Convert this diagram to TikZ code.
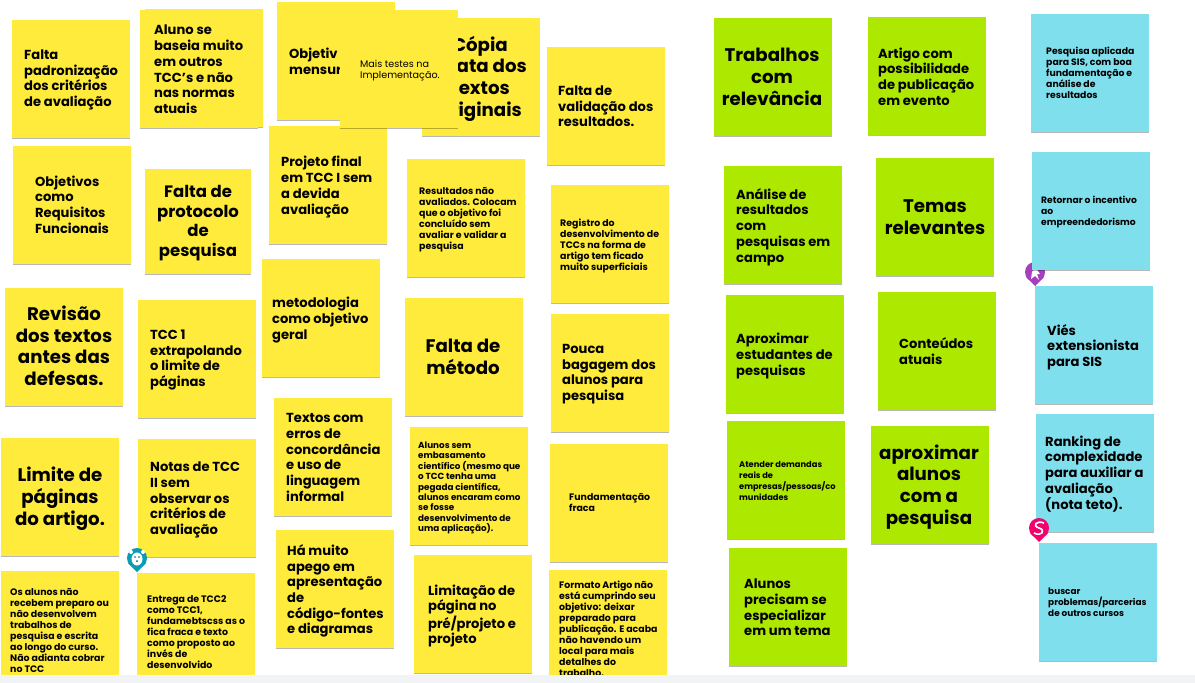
\documentclass[tikz,border=0pt]{standalone}
\usepackage{fontspec}
\usetikzlibrary{shadows}
\setmainfont{Poppins}
\definecolor{noteyellow}{HTML}{FFEB3B}
\definecolor{notegreen}{HTML}{ADE800}
\definecolor{noteblue}{HTML}{80DFEC}
\definecolor{stripgray}{HTML}{F1F3F5}
\definecolor{pinteal}{HTML}{0A9BB5}
\definecolor{pinpurple}{HTML}{A63FBC}
\definecolor{pinpink}{HTML}{F2046F}
\tikzset{
  note/.style={anchor=north west, inner sep=0, minimum width=118pt, minimum height=118pt,
    drop shadow={shadow xshift=0.2pt, shadow yshift=-1.2pt, opacity=.28, fill=black}},
  yellownote/.style={note, fill=noteyellow},
  greennote/.style={note, fill=notegreen},
  bluenote/.style={note, fill=noteblue},
  notetext/.style={inner sep=0, text=black, yshift=-2pt,
    execute at begin node={\rule{0pt}{.75em}},
    execute at end node={\rule[-.25em]{0pt}{.25em}}},
  lefttext/.style={notetext, anchor=west, align=left},
  midtext/.style={notetext, anchor=center, align=center},
  bigfont/.style={font=\fontsize{18.2}{21.8}\selectfont\bfseries},
  protofont/.style={font=\fontsize{16.5}{19.6}\selectfont\bfseries},
  midfont/.style={font=\fontsize{13.1}{15.7}\selectfont\bfseries},
  smallfont/.style={font=\fontsize{#1}{11}\selectfont\bfseries},
  smallfont/.default=9.4,
  tinyfont/.style={font=\fontsize{8.8}{10.4}\selectfont\bfseries},
  plainfont/.style={font=\fontsize{9.6}{11}\selectfont},
}
\begin{document}
\begin{tikzpicture}[x=1pt, y=-1pt]
    \clip (0,0) rectangle (1195,683);
    \fill [white] (0,0) rectangle (1195,683);

    % yellow notes, first column
    \node [yellownote] (padrao) at (12,20) {};
    \node [lefttext, midfont] (padrao text) at (24,78) {Falta\\padronização\\dos critérios\\de avaliação};
    \node [yellownote] (requisitos) at (13,146) {};
    \node [lefttext, midfont] (requisitos text) at (35,204) {Objetivos\\como\\Requisitos\\Funcionais};
    \node [yellownote] (revisao) at (5,288) {};
    \node [midtext, bigfont] (revisao text) at (64,346) {Revisão\\dos textos\\antes das\\defesas.};
    \node [yellownote] (limite) at (1,438) {};
    \node [midtext, bigfont] (limite text) at (60,497) {Limite de\\páginas\\do artigo.};
    \node [yellownote] (preparo) at (1,571) {};
    \node [lefttext, smallfont] (preparo text) at (10,630) {Os alunos não\\recebem preparo ou\\não desenvolvem\\trabalhos de\\pesquisa e escrita\\ao longo do curso.\\Não adianta cobrar\\no TCC};

    % second column
    \node [yellownote] (normas back) at (145,9) {};
    \node [yellownote] (normas) at (140,10) {};
    \node [lefttext, midfont] (normas text) at (154,69) {Aluno se\\baseia muito\\em outros\\TCC's e não\\nas normas\\atuais};
    \node [yellownote, minimum width=106pt, minimum height=105pt] (protocolo) at (145,169) {};
    \node [midtext, protofont] (protocolo text) at (198,221) {Falta de\\protocolo\\de\\pesquisa};
    \node [yellownote] (extrapola) at (138,300) {};
    \node [lefttext, midfont] (extrapola text) at (150,358) {TCC 1\\extrapolando\\o limite de\\páginas};
    \node [yellownote] (notas) at (138,439) {};
    \node [lefttext, midfont] (notas text) at (150,498) {Notas de TCC\\II sem\\observar os\\critérios de\\avaliação};
    \node [yellownote] (entrega) at (137,573) {};
    \node [lefttext, smallfont] (entrega text) at (147,631) {Entrega de TCC2\\como TCC1,\\fundamebtscss as o\\fica fraca e texto\\como proposto ao\\invés de\\desenvolvido};

    % third column
    \node [yellownote] (mensura) at (277,2) {};
    \node [lefttext, midfont] (mensura text) at (289,61) {Objetiv\\mensur};
    \node [yellownote] (projeto) at (269,126) {};
    \node [lefttext, midfont] (projeto text) at (281,185) {Projeto final\\em TCC I sem\\a devida\\avaliação};
    \node [yellownote] (metodologia) at (262,259) {};
    \node [lefttext, midfont] (metodologia text) at (272,318) {metodologia\\como objetivo\\geral};
    \node [yellownote] (erros) at (274,398) {};
    \node [lefttext, midfont] (erros text) at (286,457) {Textos com\\erros de\\concordância\\e uso de\\linguagem\\informal};
    \node [yellownote] (apego) at (276,530) {};
    \node [lefttext, midfont] (apego text) at (287,589) {Há muito\\apego em\\apresentação\\de\\código-fontes\\e diagramas};

    % fourth column
    \node [yellownote] (copia) at (422,18) {};
    \node [lefttext, bigfont, anchor=east] (copia line a) at (508,44) {Cópia};
    \node [lefttext, bigfont, anchor=east] (copia line b) at (527,66) {ata dos};
    \node [lefttext, bigfont, anchor=east] (copia line c) at (510,88) {extos};
    \node [lefttext, bigfont, anchor=east] (copia line d) at (522,110) {riginais};
    \node [yellownote] (testes) at (340,10) {};
    \node [lefttext, plainfont] (testes text) at (360,69) {Mais testes na\\Implementação.};
    \node [yellownote] (avaliados) at (407,159) {};
    \node [lefttext, smallfont] (avaliados text) at (419,218) {Resultados não\\avaliados. Colocam\\que o objetivo foi\\concluído sem\\avaliar e validar a\\pesquisa};
    \node [yellownote] (metodo) at (405,298) {};
    \node [midtext, bigfont] (metodo text) at (463,357) {Falta de\\método};
    \node [yellownote] (embasa) at (410,427) {};
    \node [lefttext, tinyfont] (embasa text) at (418,486) {Alunos sem\\embasamento\\científico (mesmo que\\o TCC tenha uma\\pegada científica,\\alunos encaram como\\se fosse\\desenvolvimento de\\uma aplicação).};
    \node [yellownote] (limitacao) at (414,555) {};
    \node [lefttext, midfont] (limitacao text) at (428,614) {Limitação de\\página no\\pré/projeto e\\projeto};

    % fifth column
    \node [yellownote] (validacao) at (547,47) {};
    \node [lefttext, midfont] (validacao text) at (558,106) {Falta de\\validação dos\\resultados.};
    \node [yellownote] (registro) at (551,185) {};
    \node [lefttext, smallfont] (registro text) at (560,244) {Registro do\\desenvolvimento de\\TCCs na forma de\\artigo tem ficado\\muito superficiais};
    \node [yellownote] (bagagem) at (551,314) {};
    \node [lefttext, midfont] (bagagem text) at (562,372) {Pouca\\bagagem dos\\alunos para\\pesquisa};
    \node [yellownote] (fundamento) at (550,444) {};
    \node [lefttext, smallfont] (fundamento text) at (569,502) {Fundamentação\\fraca};
    \node [yellownote] (formato) at (549,570) {};
    \node [lefttext, smallfont] (formato text) at (559,628) {Formato Artigo não\\está cumprindo seu\\objetivo: deixar\\preparado para\\publicação. E acaba\\não havendo um\\local para mais\\detalhes do\\trabalho.};

    % green notes
    \node [greennote] (trabalhos) at (714,18) {};
    \node [midtext, bigfont] (trabalhos text) at (772,77) {Trabalhos\\com\\relevância};
    \node [greennote] (evento) at (868,17) {};
    \node [lefttext, midfont] (evento text) at (878,76) {Artigo com\\possibilidade\\de publicação\\em evento};
    \node [greennote] (campo) at (724,166) {};
    \node [lefttext, midfont] (campo text) at (736,225) {Análise de\\resultados\\com\\pesquisas em\\campo};
    \node [greennote] (temas) at (876,158) {};
    \node [midtext, bigfont] (temas text) at (935,217) {Temas\\relevantes};
    \node [greennote] (estudantes) at (726,295) {};
    \node [lefttext, midfont] (estudantes text) at (736,354) {Aproximar\\estudantes de\\pesquisas};
    \node [greennote] (conteudos) at (878,292) {};
    \node [lefttext, midfont] (conteudos text) at (899,351) {Conteúdos\\atuais};
    \node [greennote] (demandas) at (727,421) {};
    \node [lefttext, smallfont=8.3] (demandas text) at (739,480) {Atender demandas\\reais de\\empresas/pessoas/co\\munidades};
    \node [greennote] (aproximar) at (871,426) {};
    \node [midtext, bigfont] (aproximar text) at (929,485) {aproximar\\alunos\\com a\\pesquisa};
    \node [greennote] (tema) at (729,548) {};
    \node [lefttext, midfont] (tema text) at (744,607) {Alunos\\precisam se\\especializar\\em um tema};

    % blue notes and the pins between them
    \node [bluenote] (aplicada) at (1031,14) {};
    \node [lefttext, smallfont=9.3] (aplicada text) at (1046,72) {Pesquisa aplicada\\para SIS, com boa\\fundamentação e\\análise de\\resultados};
    \fill [pinpurple] (1035,272) circle [radius=10];
    \fill [pinpurple] (1026,277) -- (1035,286) -- (1044,277) -- cycle;
    \fill [white] (1035,267) -- (1040,274) -- (1037,274) -- (1039,280) -- (1035,276) -- (1031,279) -- (1032,272) -- cycle;
    \node [bluenote] (retornar) at (1032,152) {};
    \node [lefttext, smallfont=9.2] (retornar text) at (1041,210) {Retornar o incentivo\\ao\\empreendedorismo};
    \node [bluenote] (vies) at (1035,286) {};
    \node [lefttext, midfont] (vies text) at (1047,345) {Viés\\extensionista\\para SIS};
    \node [bluenote] (ranking) at (1036,414) {};
    \node [lefttext, midfont] (ranking text) at (1045,472) {Ranking de\\complexidade\\para auxiliar a\\avaliação\\(nota teto).};
    \node [bluenote] (parcerias) at (1039,543) {};
    \node [lefttext, smallfont=8.9] (parcerias text) at (1048,601) {buscar\\problemas/parcerias\\de outros cursos};
    \fill [pinpink] (1039,528) circle [radius=10];
    \fill [pinpink] (1030,533) -- (1039,542) -- (1048,533) -- cycle;
    \draw [white, line width=1.6pt] (1044,523) .. controls (1036,520) and (1032,526) .. (1039,528) .. controls (1046,530) and (1042,537) .. (1034,533);
    \fill [pinteal] (137,558) circle [radius=10];
    \fill [pinteal] (128,563) -- (137,572) -- (146,563) -- cycle;
    \fill [white] (137,559) ellipse [x radius=5.5, y radius=6.5];
    \fill [white] (131,552) circle [radius=2];
    \fill [white] (143,552) circle [radius=2];
    \fill [pinteal!60!black] (135,557) circle [radius=.9];
    \fill [pinteal!60!black] (139,557) circle [radius=.9];
    \fill [pinteal!60!black] (137,561) circle [radius=1];

    \fill [stripgray] (0,675) rectangle (1195,683);
\end{tikzpicture}
\end{document}
